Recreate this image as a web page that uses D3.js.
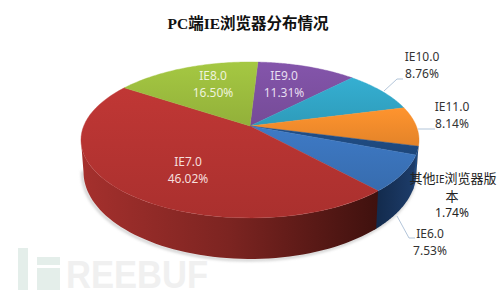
<!DOCTYPE html>
<html>
<head>
<meta charset="utf-8">
<script src="https://cdn.jsdelivr.net/npm/d3@7"></script>
<style>
  html, body { margin: 0; background: #fff; }
  text { font-family: "Noto Sans", "Noto Sans CJK SC", sans-serif; }
</style>
</head>
<body>
<div id="chart"></div>
<script>
const titleText = "PC端IE浏览器分布情况";
const categories = ["IE9.0", "IE10.0", "IE11.0", "其他IE浏览器版本", "IE6.0", "IE7.0", "IE8.0"];
const shares = [11.31, 8.76, 8.14, 1.74, 7.53, 46.02, 16.50];
const topColors = ["#7b4f9f", "#31a3c4", "#ef8a2b", "#1f4a80", "#3a72b8", "#b33331", "#9aba3d"];
const wallColors = [null, null, null, null, ["#1d3d6b", "#12294a"], ["#a5302d", "#7c2421", "#3f110e"], null];

const width = 497, height = 297;
const svg = d3.select("#chart").append("svg").attr("width", width).attr("height", height);
const defs = svg.append("defs");

// the pie is tilted with some perspective, so the centre is not the middle of the ellipse
const apex = { x: 250, y: 126 };
const rx = 166.3, ry = 75.5, persp = 0.179;
const project = t => {
  const w = 1 + persp * Math.cos(t);
  return [apex.x + rx * Math.sin(t) / w, apex.y - ry * Math.cos(t) / w];
};
// bottom rim of the wall
const projectBottom = t => {
  const [x, y] = project(t);
  return [apex.x + (x - apex.x) * 0.985, apex.y + 30.4 + (y - apex.y) * 1.115];
};

const pie = d3.pie().sort(null)
  .startAngle(3.2 * Math.PI / 180)
  .endAngle(2 * Math.PI + 3.2 * Math.PI / 180);
const slices = pie(shares);

const rim = (fn, a, b) => d3.range(0, 61).map(i => fn(a + (b - a) * i / 60));
const line = d3.line();

// watermark
const mark = svg.append("g").attr("fill", "#e4eeea");
mark.append("rect").attr("x", 18).attr("y", 248).attr("width", 10).attr("height", 42);
mark.append("rect").attr("x", 37).attr("y", 257).attr("width", 23).attr("height", 8);
mark.append("rect").attr("x", 37).attr("y", 268).attr("width", 23).attr("height", 22);
svg.append("text").attr("x", 66).attr("y", 288)
  .attr("fill", "#f0f0f0")
  .style("font-family", "'Liberation Sans', sans-serif")
  .style("font-weight", "bold").style("font-size", "39px")
  .attr("textLength", 142).attr("lengthAdjust", "spacingAndGlyphs")
  .text("REEBUF");

// soft shadow below the body
defs.append("filter").attr("id", "soft").append("feGaussianBlur").attr("stdDeviation", 1.5);
svg.append("path")
  .attr("d", line(rim(projectBottom, Math.PI * 0.55, Math.PI * 1.45)))
  .attr("fill", "none").attr("stroke", "#bbb").attr("stroke-width", 2)
  .attr("filter", "url(#soft)").attr("transform", "translate(-1,1)");

// walls, only the part facing the viewer
const wallFrom = Math.PI - Math.acos(persp), wallTo = Math.PI + Math.acos(persp);
slices.forEach((s, i) => {
  // a little overlap so no white seam shows between neighbours
  const a = Math.max(s.startAngle, wallFrom), b = Math.min(s.endAngle + 0.02, wallTo);
  if (a >= b) return;
  const top = rim(project, a, b), bottom = rim(projectBottom, a, b).reverse();
  const gx = d3.extent(top.concat(bottom), d => d[0]);
  const id = "wall" + i;
  const stops = wallColors[i] || [topColors[i], topColors[i]];
  const grad = defs.append("linearGradient").attr("id", id)
    .attr("gradientUnits", "userSpaceOnUse")
    .attr("x1", i === 5 ? gx[0] : gx[1]).attr("x2", i === 5 ? gx[1] : gx[0])
    .attr("y1", 0).attr("y2", 0);
  stops.forEach((c, k) => grad.append("stop")
    .attr("offset", k / (stops.length - 1)).attr("stop-color", c));
  svg.append("path").attr("d", line(top.concat(bottom)) + "Z").attr("fill", `url(#${id})`);
});

// top faces
slices.forEach((s, i) => {
  const c = d3.color(topColors[i]);
  const id = "top" + i;
  const grad = defs.append("linearGradient").attr("id", id)
    .attr("x1", 0).attr("x2", 0).attr("y1", 0).attr("y2", 1);
  grad.append("stop").attr("offset", 0).attr("stop-color", c.brighter(0.2));
  grad.append("stop").attr("offset", 1).attr("stop-color", c.darker(0.15));
  const pts = [[apex.x, apex.y]].concat(rim(project, s.startAngle, s.endAngle));
  svg.append("path").attr("d", line(pts) + "Z").attr("fill", `url(#${id})`)
    .attr("stroke", `url(#${id})`).attr("stroke-width", 0.4);
});

// leader lines
const leaders = [
  [[384, 91], [397, 79], [403, 79]],
  [[418, 129], [435, 129]],
  [[397, 216], [409, 238], [415, 238]]
];
svg.append("g").selectAll("path").data(leaders).join("path")
  .attr("d", d => line(d)).attr("fill", "none")
  .attr("stroke", "#9fb6cf").attr("stroke-width", 0.8);

// labels
const labels = [
  { name: ["IE9.0"], val: "11.31%", x: 284, y: 80, fill: "#e6def0" },
  { name: ["IE10.0"], val: "8.76%", x: 422, y: 61, fill: "#333" },
  { name: ["IE11.0"], val: "8.14%", x: 452, y: 111, fill: "#333" },
  { name: [], val: "1.74%", x: 452, y: 217, fill: "#222" },
  { name: ["IE6.0"], val: "7.53%", x: 430, y: 238, fill: "#333" },
  { name: ["IE7.0"], val: "46.02%", x: 188, y: 166, fill: "#f5dedc" },
  { name: ["IE8.0"], val: "16.50%", x: 213, y: 80, fill: "#eef3dc" }
];
labels.forEach(d => {
  const g = svg.append("g").attr("text-anchor", "middle").attr("fill", d.fill)
    .style("font-size", "12px");
  const lines = d.name.concat([d.val]);
  lines.forEach((t, k) => g.append("text").attr("x", d.x).attr("y", d.y + k * 17).text(t));
});

// the long name wraps, its latin part is set smaller than the chinese
const other = svg.append("g").attr("text-anchor", "middle").attr("fill", "#222")
  .style("font-size", "13px");
const otherFirst = other.append("text").attr("x", 453).attr("y", 183);
otherFirst.append("tspan").text("其他");
otherFirst.append("tspan").style("font-size", "10px").text("IE");
otherFirst.append("tspan").text("浏览器版");
other.append("text").attr("x", 452).attr("y", 201).text("本");

// title
svg.append("text").attr("x", 248).attr("y", 29).attr("text-anchor", "middle")
  .style("font-family", "'Liberation Serif', 'Noto Sans CJK SC', serif")
  .style("font-weight", "bold").style("font-size", "15.5px").attr("fill", "#111")
  .text(titleText);
</script>
</body>
</html>
